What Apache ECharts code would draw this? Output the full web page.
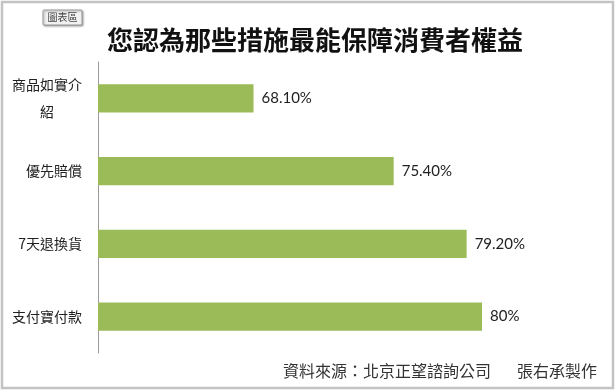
<!DOCTYPE html>
<html><head><meta charset="utf-8">
<script src="https://cdn.jsdelivr.net/npm/echarts@6/dist/echarts.min.js"></script>
<style>html,body{margin:0;padding:0;background:#fff}#c{width:616px;height:390px}</style>
</head><body><div id="c"></div>
<script>
const titleText = '您認為那些措施最能保障消費者權益';
const categories = ['商品如實介\n紹', '優先賠償', '7天退換貨', '支付寶付款'];
const values = [68.1, 75.4, 79.2, 80];
const valueLabels = ['68.10%', '75.40%', '79.20%', '80%'];
const sourceText = '資料來源：北京正望諮詢公司';
const authorText = '張右承製作';
const boxText = '圖表區';

const CJK = '"Noto Sans CJK TC","Noto Sans CJK SC",sans-serif';
const chart = echarts.init(document.getElementById('c'), null, {renderer: 'canvas'});
chart.setOption({
  backgroundColor: '#fff',
  animation: false,
  title: {
    text: titleText, left: 310, top: 22, textAlign: 'center',
    textStyle: {fontFamily: CJK, fontSize: 26, fontWeight: 'bold', color: '#111'}
  },
  grid: {left: 98, right: 38, top: 62, bottom: 37, containLabel: false},
  xAxis: {type: 'value', min: 60, max: 85, show: false, splitLine: {show: false}},
  yAxis: {
    type: 'category', data: categories, inverse: true,
    axisLine: {show: true, lineStyle: {color: '#9a9a9a', width: 1}},
    axisTick: {show: false},
    axisLabel: {
      margin: 16, color: '#222', fontFamily: CJK, fontSize: 14,
      formatter: function (v) {
        if (v.indexOf('\n') >= 0) {
          const p = v.split('\n');
          return '{a|' + p[0] + '}\n{b|' + p[1] + '}';
        }
        return v;
      },
      rich: {
        a: {fontFamily: CJK, fontSize: 14, color: '#222', lineHeight: 27},
        b: {fontFamily: CJK, fontSize: 14, color: '#222', lineHeight: 27, align: 'center'}
      }
    }
  },
  series: [{
    type: 'bar', data: values, barCategoryGap: '61%',
    itemStyle: {color: '#9BBB59'},
    label: {
      show: true, position: 'right', distance: 8,
      fontFamily: 'Lato, "Open Sans", sans-serif', fontSize: 15, color: '#222',
      formatter: function (p) { return valueLabels[p.dataIndex]; }
    }
  }],
  graphic: [
    {type: 'rect', shape: {x: 2, y: 2, width: 611, height: 386}, style: {fill: 'none', stroke: '#c3c3c3', lineWidth: 2.5}, z: 10},
    {type: 'rect', shape: {x: 43, y: 10, width: 39, height: 15, r: 1},
      style: {fill: '#f2f2f2', stroke: '#9a9a9a', lineWidth: 1, shadowColor: 'rgba(0,0,0,0.35)', shadowBlur: 2, shadowOffsetX: 1, shadowOffsetY: 1}, z: 10},
    {type: 'text', x: 62.5, y: 17.5, style: {text: boxText, fontFamily: CJK, fontSize: 10, fill: '#444', align: 'center', verticalAlign: 'middle'}, z: 11},
    {type: 'text', x: 283, y: 371, style: {text: sourceText, fontFamily: CJK, fontSize: 16, fill: '#333', align: 'left', verticalAlign: 'middle'}, z: 11},
    {type: 'text', x: 597, y: 371, style: {text: authorText, fontFamily: CJK, fontSize: 16, fill: '#333', align: 'right', verticalAlign: 'middle'}, z: 11}
  ]
});
</script></body></html>
